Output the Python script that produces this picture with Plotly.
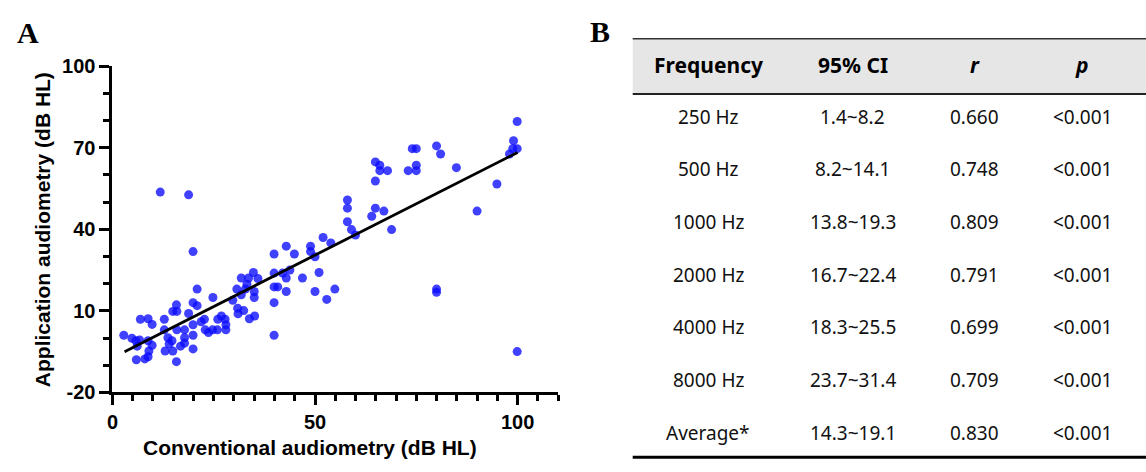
import numpy as np
import plotly.graph_objects as go

W, H = 1146, 472

# panel A: conventional vs application audiometry (dB HL)
conv = [2.8, 4.8, 5.8, 6.7, 6.1, 6.9, 8.8, 9.8, 8.8, 9.8, 9.0, 8.0, 5.9, 8.8,
        12.8, 12.8, 13.0, 13.7, 14.0, 14.7, 14.9, 15.8, 15.8, 14.9, 15.9, 15.9,
        16.8, 17.8, 17.8, 17.8, 18.8, 19.9, 19.9, 19.9, 19.9, 20.9, 20.9, 21.9,
        22.7, 22.9, 23.7, 24.7, 24.8, 25.9, 26.9, 26.0, 27.8, 28.0, 28.0, 29.7,
        30.7, 30.9, 31.0, 31.8, 31.8, 32.4, 32.8, 33.2, 33.6, 33.8, 34.8, 35.0,
        35.0, 35.1, 35.9, 39.9, 39.9, 39.9, 39.9, 39.9, 40.8, 42.0, 42.9, 42.9,
        42.9, 43.8, 44.9, 46.9, 48.9, 48.9, 50.0, 50.0, 51.0, 52.0, 52.9, 53.9,
        54.9, 19.9, 11.8, 18.8,
        99.9, 99.0, 99.9, 98.8, 98.0, 94.9, 90.0, 84.9, 81.0, 80.0, 74.0, 75.0,
        75.0, 75.0, 73.0, 67.9, 66.0, 66.0, 64.9, 64.9, 64.9, 67.0, 64.0, 68.9,
        58.0, 58.0, 58.0, 59.0, 60.0, 80.0, 80.0, 99.9]
app = [1.0, -0.1, -1.0, -0.7, -3.0, 6.9, 7.1, 5.0, -1.0, -2.7, -4.8, -7.7, -8.0, -6.9,
       6.9, 3.0, -4.8, 0.1, -2.2, -1.0, -4.8, -8.7, 12.2, 9.8, 9.8, 3.0,
       -3.0, 3.0, 0.1, -1.9, 9.0, 13.0, 1.0, -4.0, 4.9, 11.9, 18.0, 6.0,
       6.9, 3.0, 2.0, 3.0, 14.9, 3.0, 8.1, 6.9, 6.9, 4.9, 3.0, 13.9,
       18.0, 11.0, 8.9, 15.9, 22.1, 10.1, 18.0, 19.8, 22.1, 7.1, 24.1, 17.1,
       14.9, 8.1, 21.9, 30.9, 23.9, 18.8, 13.0, 1.0, 18.8, 23.9, 22.1, 33.8,
       17.1, 25.0, 30.9, 22.1, 33.8, 31.8, 29.9, 17.1, 24.1, 37.0, 14.2, 35.0,
       18.0, 31.8, 53.7, 52.7,
       79.7, 72.6, 69.7, 69.7, 67.7, 56.7, 46.7, 62.7, 67.7, 70.7, 69.7, 69.7,
       63.6, 61.6, 61.6, 61.6, 61.6, 63.6, 64.8, 57.8, 47.8, 46.7, 44.8, 39.9,
       50.8, 47.8, 42.8, 39.9, 37.9, 18.0, 16.8, -5.0]

# regression line as drawn in the figure
fit_slope = 0.756
fit_intercept = -7.3
fit_x = [3, 100]

y_tick_vals = [-20, 10, 40, 70, 100]
y_tick_text = ["-20", "10", "40", "70", "100"]
x_tick_vals = [0, 50, 100]

# panel B table
tbl_header = ["Frequency", "95% CI", "<i>r</i>", "<i>p</i>"]
tbl_freq = ["250 Hz", "500 Hz", "1000 Hz", "2000 Hz", "4000 Hz", "8000 Hz", "Average*"]
tbl_ci = ["1.4~8.2", "8.2~14.1", "13.8~19.3", "16.7~22.4", "18.3~25.5", "23.7~31.4", "14.3~19.1"]
tbl_r = ["0.660", "0.748", "0.809", "0.791", "0.699", "0.709", "0.830"]
tbl_p = ["<0.001"] * 7


def px(x):
    return x / W


def py(y):
    return 1 - y / H


fig = go.Figure()
fig.add_trace(go.Scatter(
    x=conv, y=app, mode="markers",
    marker=dict(size=9, color="rgb(10,10,255)", opacity=0.78, line=dict(width=0)),
    showlegend=False))
fx = np.array(fit_x, dtype=float)
fig.add_trace(go.Scatter(
    x=fx, y=fit_intercept + fit_slope * fx, mode="lines",
    line=dict(color="black", width=2.8), showlegend=False))

tick_font = dict(family="Liberation Sans, Arial", size=20, color="black", weight="bold")
fig.update_xaxes(
    domain=[px(107), px(555)], range=[0, 110], tickmode="array", tickvals=x_tick_vals,
    showline=True, linewidth=3, linecolor="black", ticks="outside", ticklen=10,
    tickwidth=2.5, tickcolor="black", showgrid=False, zeroline=False,
    tickfont=tick_font, anchor="y",
    minor=dict(tick0=0, dtick=5, ticks="outside", ticklen=6, tickwidth=2.5, tickcolor="black", showgrid=False))
fig.update_yaxes(
    domain=[py(400), py(58)], range=[-20, 100], tickmode="array", tickvals=y_tick_vals,
    ticktext=y_tick_text,
    showline=True, linewidth=3, linecolor="black", ticks="outside", ticklen=10,
    tickwidth=2.5, tickcolor="black", showgrid=False, zeroline=False,
    tickfont=tick_font, anchor="x",
    minor=dict(tick0=0, dtick=10, ticks="outside", ticklen=6, tickwidth=2.5, tickcolor="black", showgrid=False))

ann = []
title_font = dict(family="Liberation Sans, Arial", size=21, color="black", weight="bold")
ann.append(dict(x=px(306), y=py(458), xref="paper", yref="paper", text="Conventional audiometry (dB HL)",
                showarrow=False, font=title_font, xanchor="center", yanchor="middle"))
ann.append(dict(x=px(37), y=py(229), xref="paper", yref="paper", text="Application audiometry (dB HL)",
                showarrow=False, font=title_font, textangle=-90, xanchor="center", yanchor="middle"))
panel_font = dict(family="Liberation Serif, Times New Roman", size=30, color="black", weight="bold")
ann.append(dict(x=px(22), y=py(23), xref="paper", yref="paper", text="A", showarrow=False,
                font=panel_font, xanchor="center", yanchor="middle"))
ann.append(dict(x=px(597), y=py(22), xref="paper", yref="paper", text="B", showarrow=False,
                font=panel_font, xanchor="center", yanchor="middle"))

# table layout
t_left, t_right = 630, 1146
t_top, t_head, t_bottom = 29, 87, 468
col_x = [706, 851, 974, 1082]
head_y = 57
row_y0, row_dy = 111, 55.2

shapes = [
    dict(type="rect", xref="paper", yref="paper", x0=px(t_left), x1=px(t_right), y0=py(t_head), y1=py(t_top),
         fillcolor="#e6e6e6", line=dict(width=0), layer="below"),
    dict(type="line", xref="paper", yref="paper", x0=px(t_left), x1=px(t_right), y0=py(t_top), y1=py(t_top),
         line=dict(color="#333333", width=1.5)),
    dict(type="line", xref="paper", yref="paper", x0=px(t_left), x1=px(t_right), y0=py(t_head), y1=py(t_head),
         line=dict(color="#222222", width=2)),
    dict(type="line", xref="paper", yref="paper", x0=px(t_left), x1=px(t_right), y0=py(t_bottom), y1=py(t_bottom),
         line=dict(color="black", width=3)),
]

head_font = dict(family="Noto Sans", size=21, color="black", weight="bold")
body_font = dict(family="Noto Sans", size=19, color="#111111")
for cx, txt in zip(col_x, tbl_header):
    ann.append(dict(x=px(cx), y=py(head_y), xref="paper", yref="paper", text=txt, showarrow=False,
                    font=head_font, xanchor="center", yanchor="middle"))
for i, row in enumerate(zip(tbl_freq, tbl_ci, tbl_r, tbl_p)):
    for cx, txt in zip(col_x, row):
        ann.append(dict(x=px(cx), y=py(row_y0 + i * row_dy), xref="paper", yref="paper",
                        text=txt.replace("<0", "&lt;0"), showarrow=False,
                        font=body_font, xanchor="center", yanchor="middle"))

fig.update_layout(
    width=W, height=H, margin=dict(l=0, r=0, t=0, b=0),
    plot_bgcolor="white", paper_bgcolor="white",
    annotations=ann, shapes=shapes)

# page body margin off so the figure sits at the window's top-left corner; no modebar
fig.write_html("out.html", config={"displayModeBar": False},
               post_script="document.body.style.margin='0';")
